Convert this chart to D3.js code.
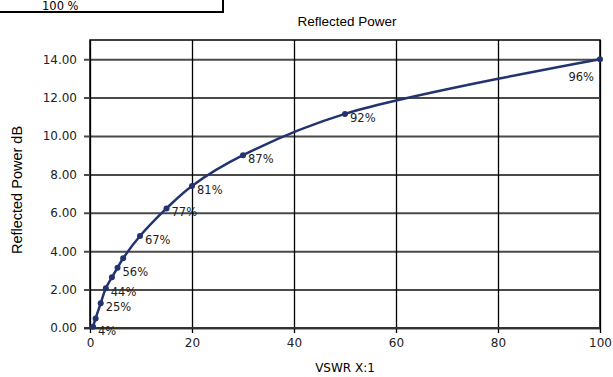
<!DOCTYPE html>
<html>
<head>
<meta charset="utf-8">
<script src="https://cdn.jsdelivr.net/npm/d3@7"></script>
<style>
  html, body { margin: 0; padding: 0; background: #fff; overflow: hidden; }
  svg { display: block; }
</style>
</head>
<body>
<svg id="chart" width="613" height="377"></svg>
<script>
// ---- data ----
const vswr = [0.6, 1.1, 2.1, 3.1, 4.3, 5.4, 6.5, 9.8, 15, 20, 30, 50, 100];
const reflectedDb = [0.07, 0.5, 1.29, 2.07, 2.64, 3.14, 3.63, 4.79, 6.23, 7.4, 9.0, 11.15, 14.0];
const pointLabels = ["4%", "", "25%", "44%", "", "56%", "", "67%", "77%", "81%", "87%", "92%", "96%"];
const xTicks = [0, 20, 40, 60, 80, 100];
const yTicks = [0, 2, 4, 6, 8, 10, 12, 14];
const chartTitle = "Reflected Power";
const xTitle = "VSWR X:1";
const yTitle = "Reflected Power dB";
const boxText = "100 %";

// ---- layout ----
const svg = d3.select("#chart");
const plot = { left: 90, right: 600, top: 40, bottom: 328 };
const x = d3.scaleLinear().domain([0, 100]).range([plot.left, plot.right]);
const y = d3.scaleLinear().domain([0, 15]).range([plot.bottom, plot.top]);
const gothic = "'DejaVu Sans', sans-serif";
const arial = "'Liberation Sans', Arial, sans-serif";

// top-left box (partly off the top edge, as in the reference)
svg.append("rect").attr("x", -3).attr("y", -20).attr("width", 226).attr("height", 32)
  .attr("fill", "#fff").attr("stroke", "#000").attr("stroke-width", 2);
svg.append("text").attr("x", 42).attr("y", 9.5).attr("font-family", gothic)
  .attr("font-size", 11.5).attr("fill", "#000").text(boxText);

// title
svg.append("text").attr("x", 347).attr("y", 26).attr("text-anchor", "middle")
  .attr("font-family", arial).attr("font-size", 13.5).attr("fill", "#000").text(chartTitle);

// plot border
svg.append("rect").attr("x", plot.left).attr("y", plot.top)
  .attr("width", plot.right - plot.left).attr("height", plot.bottom - plot.top)
  .attr("fill", "none").attr("stroke", "#000").attr("stroke-width", 1.5);

// horizontal grid (gray, thicker) with ticks to the left
const yAxis = d3.axisLeft(y).tickValues(yTicks).tickFormat(d3.format(".2f"))
  .tickSize(plot.right - plot.left + 6).tickPadding(7);
const gy = svg.append("g").attr("transform", `translate(${plot.right},0)`).call(yAxis);
gy.select(".domain").remove();
gy.selectAll(".tick line").attr("stroke", "#4a4a4a").attr("stroke-width", 2);
gy.selectAll(".tick text").attr("font-family", gothic).attr("font-size", 12).attr("fill", "#222");

// vertical grid (black) with ticks below
const xAxis = d3.axisBottom(x).tickValues(xTicks).tickFormat(d3.format("d"))
  .tickSize(plot.bottom - plot.top + 5).tickPadding(5);
const gx = svg.append("g").attr("transform", `translate(0,${plot.top})`).call(xAxis);
gx.select(".domain").remove();
gx.selectAll(".tick line").attr("stroke", "#000").attr("stroke-width", 1.3);
gx.selectAll(".tick text").attr("font-family", gothic).attr("font-size", 12).attr("fill", "#222");

// zero line on top
svg.append("line").attr("x1", plot.left - 6).attr("x2", plot.right)
  .attr("y1", y(0)).attr("y2", y(0)).attr("stroke", "#333").attr("stroke-width", 2);

// axis titles
svg.append("text").attr("x", 345).attr("y", 372).attr("text-anchor", "middle")
  .attr("font-family", gothic).attr("font-size", 12).attr("fill", "#000").text(xTitle);
svg.append("text").attr("transform", "translate(22,190) rotate(-90)").attr("text-anchor", "middle")
  .attr("font-family", arial).attr("font-size", 14.5).attr("fill", "#000").text(yTitle);

// series
const data = vswr.map((v, i) => ({ x: v, y: reflectedDb[i], label: pointLabels[i] }));
const color = "#22336f";
const line = d3.line().x(d => x(d.x)).y(d => y(d.y)).curve(d3.curveCatmullRom.alpha(0.5));
svg.append("path").datum(data).attr("d", line).attr("fill", "none")
  .attr("stroke", color).attr("stroke-width", 2.5);
svg.selectAll("circle.pt").data(data).enter().append("circle").attr("class", "pt")
  .attr("cx", d => x(d.x)).attr("cy", d => y(d.y)).attr("r", 3).attr("fill", color);

// point labels
const last = data.length - 1;
svg.selectAll("text.lbl").data(data.filter(d => d.label)).enter().append("text")
  .attr("class", "lbl")
  .attr("x", d => d === data[last] ? x(d.x) - 6 : x(d.x) + 5)
  .attr("y", d => d === data[last] ? y(d.y) + 22 : y(d.y) + 8)
  .attr("text-anchor", d => d === data[last] ? "end" : "start")
  .attr("font-family", gothic).attr("font-size", 11.5).attr("fill", "#222")
  .text(d => d.label);
</script>
</body>
</html>
